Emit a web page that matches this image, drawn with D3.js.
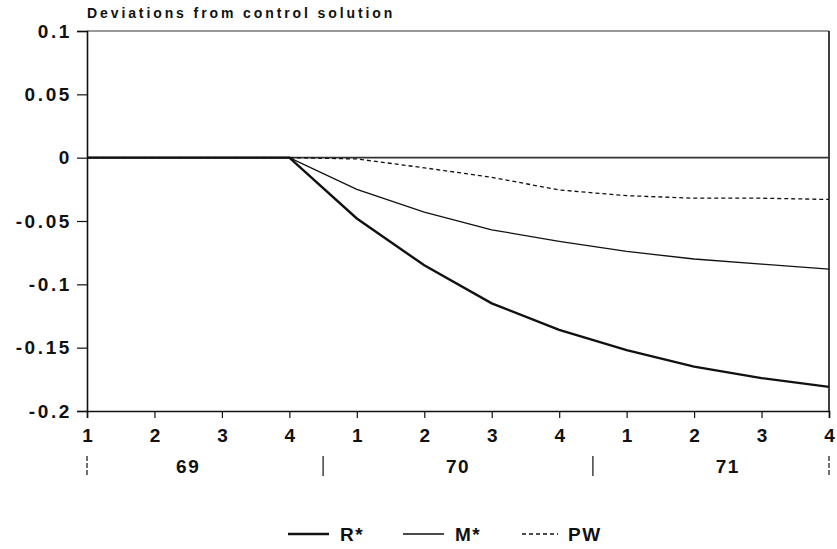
<!DOCTYPE html>
<html lang="en">
<head>
  <meta charset="utf-8">
  <title>Deviations from control solution</title>
  <script type="text/javascript" src="https://d3js.org/d3.v7.min.js"></script>
  <style>
    body { margin: 0; background: #fff; }
    text { font-family: "Liberation Sans", Arial, sans-serif; font-weight: bold; fill: #111; }
  </style>
</head>
<body>
  <script type="text/javascript">
    var w = 837;
    var h = 549;

    // quarters 1..4 for 69, 70, 71
    var quarters = ["1", "2", "3", "4", "1", "2", "3", "4", "1", "2", "3", "4"];
    var years = ["69", "70", "71"];
    var yTicks = [0.1, 0.05, 0, -0.05, -0.1, -0.15, -0.2];

    var rStar = [0, 0, 0, 0, -0.048, -0.085, -0.115, -0.136, -0.152, -0.165, -0.174, -0.181];
    var mStar = [0, 0, 0, 0, -0.025, -0.043, -0.057, -0.066, -0.074, -0.080, -0.084, -0.088];
    var pw    = [0, 0, 0, 0, -0.001, -0.008, -0.0155, -0.0255, -0.030, -0.032, -0.032, -0.033];

    var series = [
      { name: "R*", values: rStar, width: 2.4, dash: null },
      { name: "M*", values: mStar, width: 1.3, dash: null },
      { name: "PW", values: pw, width: 1.3, dash: "4,3" }
    ];

    var svg = d3.select("body").append("svg")
      .attr("width", w)
      .attr("height", h);

    var x = d3.scaleLinear().domain([0, 11]).range([87, 829]);
    var y = d3.scaleLinear().domain([-0.2, 0.1]).range([411, 31]);

    // title
    svg.append("text")
      .attr("x", 87)
      .attr("y", 18)
      .style("font-size", "14px")
      .style("letter-spacing", "2.9px")
      .text("Deviations from control solution");

    // frame: top and right lines
    svg.append("line")
      .attr("x1", x(0)).attr("x2", x(11))
      .attr("y1", y(0.1)).attr("y2", y(0.1))
      .attr("stroke", "#333").attr("stroke-width", 1.2);
    svg.append("line")
      .attr("x1", x(11)).attr("x2", x(11))
      .attr("y1", y(0.1)).attr("y2", y(-0.2))
      .attr("stroke", "#111").attr("stroke-width", 1.6);

    // zero line
    svg.append("line")
      .attr("x1", x(0)).attr("x2", x(11))
      .attr("y1", y(0)).attr("y2", y(0))
      .attr("stroke", "#333").attr("stroke-width", 1.6);

    // y axis
    var yAxis = d3.axisLeft(y)
      .tickValues(yTicks)
      .tickSize(10)
      .tickPadding(5)
      .tickFormat(function(d) { return d === 0 ? "0" : String(d); });
    var gy = svg.append("g")
      .attr("transform", "translate(" + x(0) + ",0)")
      .call(yAxis);
    gy.select(".domain").attr("stroke", "#111").attr("stroke-width", 1.6);
    gy.selectAll(".tick line").attr("stroke", "#111").attr("stroke-width", 1.2);
    gy.selectAll(".tick text")
      .style("font-size", "19px")
      .style("letter-spacing", "2.6px")
      .style("font-family", "'Liberation Sans', Arial, sans-serif")
      .style("font-weight", "bold")
      .attr("fill", "#111");

    // x axis
    var xAxis = d3.axisBottom(x)
      .tickValues(d3.range(quarters.length))
      .tickSize(7)
      .tickPadding(11)
      .tickFormat(function(d, i) { return quarters[i]; });
    var gx = svg.append("g")
      .attr("transform", "translate(0," + y(-0.2) + ")")
      .call(xAxis);
    gx.select(".domain").attr("stroke", "#111").attr("stroke-width", 1.6);
    gx.selectAll(".tick line").attr("stroke", "#111").attr("stroke-width", 1.2);
    gx.selectAll(".tick text")
      .style("font-size", "19px")
      .style("font-family", "'Liberation Sans', Arial, sans-serif")
      .style("font-weight", "bold")
      .attr("fill", "#111");

    // year separators and labels
    var sepPos = [0, 3.5, 7.5, 11];
    svg.selectAll(".sep")
      .data(sepPos)
      .enter()
      .append("line")
      .attr("class", "sep")
      .attr("x1", function(d) { return x(d); })
      .attr("x2", function(d) { return x(d); })
      .attr("y1", 456).attr("y2", 476)
      .attr("stroke", "#111")
      .attr("stroke-width", 1.2)
      .attr("stroke-dasharray", function(d) { return (d === 0 || d === 11) ? "5,2" : null; });

    svg.selectAll(".year")
      .data(years)
      .enter()
      .append("text")
      .attr("class", "year")
      .attr("x", function(d, i) { return x(i * 4 + 1.5); })
      .attr("y", 473)
      .attr("text-anchor", "middle")
      .style("font-size", "19px")
      .style("letter-spacing", "1.5px")
      .text(function(d) { return d; });

    // lines
    var line = d3.line()
      .x(function(d, i) { return x(i); })
      .y(function(d) { return y(d); });

    svg.selectAll(".series")
      .data(series)
      .enter()
      .append("path")
      .attr("class", "series")
      .attr("fill", "none")
      .attr("stroke", "#111")
      .attr("stroke-width", function(d) { return d.width; })
      .attr("stroke-dasharray", function(d) { return d.dash; })
      .attr("d", function(d) { return line(d.values); });

    // legend
    var legX = [288, 403, 522];
    var leg = svg.selectAll(".leg")
      .data(series)
      .enter()
      .append("g")
      .attr("class", "leg")
      .attr("transform", function(d, i) { return "translate(" + legX[i] + ",534)"; });
    leg.append("line")
      .attr("x1", 0).attr("x2", function(d, i) { return i === 2 ? 36 : 41; })
      .attr("y1", 0).attr("y2", 0)
      .attr("stroke", "#111")
      .attr("stroke-width", function(d) { return d.width; })
      .attr("stroke-dasharray", function(d) { return d.dash; });
    leg.append("text")
      .attr("x", function(d, i) { return i === 2 ? 46 : 52; })
      .attr("y", 7)
      .style("font-size", "19px")
      .style("letter-spacing", "1.5px")
      .text(function(d) { return d.name; });
  </script>
</body>
</html>
